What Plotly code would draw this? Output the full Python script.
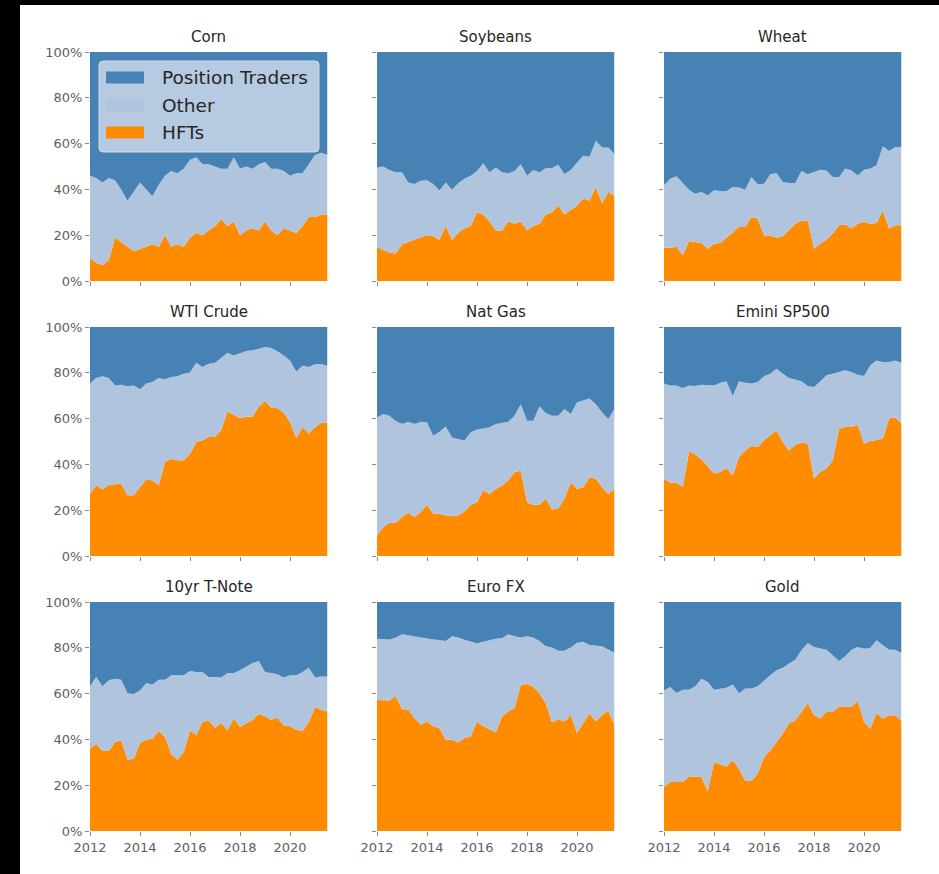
import plotly.graph_objects as go
import pandas as pd

W, H = 939, 874

# ---------------- data (percent of volume, quarterly from 2012Q1) ----------------
quarters = pd.date_range("2012-01-01", periods=39, freq="QS")

series_names = ["Position Traders", "Other", "HFTs"]
series_colors = {"Position Traders": "#4682B4", "Other": "#B0C4DE", "HFTs": "#FF8C00"}

panel_titles = ["Corn", "Soybeans", "Wheat", "WTI Crude", "Nat Gas", "Emini SP500",
                "10yr T-Note", "Euro FX", "Gold"]

# HFT share
corn_hft = [10, 8, 7, 9, 19, 17, 15, 13, 14, 15, 16, 15, 20, 15, 16, 15, 19, 21, 20, 22,
            24, 27, 24, 26, 20, 22, 23, 22, 26, 22, 20, 23, 22, 21, 24, 28, 28, 29, 29]
# HFT + Other (top of the "Other" band); Position Traders fill the rest to 100%
corn_hft_other = [46, 45, 43, 45, 44, 40, 35, 39, 43, 40, 37, 42, 46, 48, 47, 49, 53, 54, 51, 51,
                  50, 49, 49, 54, 49, 50, 49, 51, 52, 49, 49, 48, 46, 47, 47, 51, 55, 56, 55]

soy_hft = [15, 13.5, 12.5, 12, 16, 17, 18, 19, 20, 19.5, 18, 24, 18, 21, 23, 24, 30, 29, 26, 22,
           22, 26, 25, 26, 22, 24, 25, 29, 30, 33, 29, 31, 33, 36, 35, 41, 34, 39, 37]
soy_hft_other = [49.6, 50, 48.5, 47.5, 47.5, 43, 42.4, 43.8, 44, 42.4, 39.5, 43, 39.8, 42.7, 44.6,
                 46, 48, 51.4, 47.5, 49.6, 47.5, 47, 48, 51, 46, 48.5, 47.5, 49.2, 49.3, 50.8,
                 46.7, 48.5, 51.8, 54.7, 54.3, 61.2, 58.3, 58.3, 55.4]

wheat_hft = [14.5, 14.5, 15, 11.2, 17.5, 17, 16.6, 14.1, 16.3, 16.6, 18.9, 21.4, 23.6, 23.6, 27.9,
             27.2, 19.9, 19.9, 18.9, 19.5, 22.1, 25, 26.2, 26.5, 14.1, 16.3, 18, 20.7, 24.3, 24.7,
             22.9, 25, 25.8, 25, 25.3, 30.6, 22.9, 24.3, 24.3]
wheat_hft_other = [41.8, 44.7, 45.7, 42.8, 39.9, 38.1, 38.9, 37.4, 39.6, 39.3, 39.2, 41, 40.8, 39.9,
                   45.4, 42.2, 42.5, 46.6, 47.2, 43.2, 42.8, 42.8, 48, 46.6, 47.6, 48.6, 48.3,
                   45.4, 45.4, 49.1, 48.3, 46.1, 48.6, 49.1, 50.5, 58.8, 56.8, 58.5, 58.5]

wti_hft = [27, 31, 29, 31, 31.3, 31.6, 26.5, 26.5, 30, 33.5, 33, 31, 41, 42.5, 41.8, 41.8, 44.7,
           49.8, 50.5, 52, 52, 55, 63, 61.7, 60.3, 60.8, 60.8, 65.2, 67.8, 64.8, 64.5, 62.6, 58.5,
           51.5, 56.3, 53.4, 56.3, 58.2, 58.2]
wti_hft_other = [75.3, 77.7, 78.5, 77.7, 74.5, 74.8, 74.1, 74.5, 72.8, 75.3, 76, 77.7, 77.1, 78.2,
                 78.5, 79.6, 80.1, 84.4, 82.5, 84, 84.4, 86.5, 88.8, 87.6, 88.4, 89.5, 89.8, 90.5,
                 91.3, 90.8, 89.4, 87.6, 85.4, 80.6, 83.1, 82.5, 83.8, 83.8, 83]

natgas_hft = [9, 12.6, 14.5, 14.5, 17, 18.9, 17, 19.2, 22.4, 18.4, 18.4, 17.7, 17.4, 17.7, 19.4,
              22.4, 23.5, 28.6, 27.1, 29.3, 30.8, 33, 36.6, 37.3, 23.5, 22.4, 22.4, 25, 20.3, 20.9,
              25, 32.2, 29.3, 30, 34.4, 33.7, 30, 27.1, 29.3]
natgas_hft_other = [60.5, 62, 61.2, 59, 57.6, 58.6, 57.6, 58.6, 58.3, 52.5, 54.3, 56.6, 51.8, 51.1,
                    50.4, 54, 55.2, 55.7, 56.2, 57.6, 58.1, 58.6, 61.2, 66.3, 59.1, 59.1, 65.3,
                    62.4, 61.2, 61.2, 64.2, 62, 67.1, 67.8, 68.8, 66.3, 62.7, 59.8, 64.2]

emini_hft = [33.8, 32, 32, 30.1, 45.7, 44.2, 42.2, 38.9, 36, 36.7, 38.4, 35.2, 43.2, 46.1, 48, 47.6,
             50.5, 52.7, 54.9, 49.8, 46.1, 48.6, 49.5, 49.1, 33.8, 36.7, 38.1, 41.8, 55.6, 56.3,
             56.3, 57.3, 49.1, 50.1, 50.5, 51.2, 60, 60.6, 57.8]
emini_hft_other = [75.3, 74.5, 74.5, 73.4, 74.5, 74.2, 74.8, 74.5, 74.5, 75.7, 76.3, 69.9, 76.3,
                   75.7, 75.3, 76, 78.5, 79.6, 81.8, 79.6, 77.7, 77.1, 76.3, 74.2, 73.8, 76.3,
                   78.9, 79.6, 80.3, 81.1, 80.3, 79.2, 78.6, 83.3, 85.4, 84.7, 84.7, 85.4, 84.3]

tnote_hft = [36, 38.1, 34.9, 34.9, 38.9, 39.6, 31.1, 31.6, 38.4, 39.9, 40.3, 43.7, 41, 33.5, 31.1,
             34.5, 44, 41.8, 47.6, 48.3, 45.1, 47.2, 44, 49.1, 45.4, 47.2, 48.3, 51.2, 50.1, 48.6,
             49.5, 46.1, 45.7, 44.2, 43.7, 47.6, 54.1, 52.8, 52.4]
tnote_hft_other = [63.2, 67.2, 63.2, 65.8, 66.5, 66.1, 60.1, 59.8, 61.4, 64.6, 64, 66.1, 66.1, 68,
                   68, 68, 69.9, 69.4, 69.4, 67.2, 67.2, 67, 69, 69, 70.2, 71.9, 73.4, 74.2, 69.4,
                   69, 68.4, 67, 68, 68, 69.4, 71.3, 67, 67.5, 67.5]

eurofx_hft = [57.2, 57.2, 57, 59, 53.2, 53.2, 49.3, 46.4, 47.8, 45.7, 44.9, 39.9, 39.9, 38.7, 40.6,
              41.3, 47.8, 45.7, 44.2, 43, 50, 52.2, 53.6, 63.8, 64.2, 63, 60.1, 55.8, 47.4, 48.8,
              47.8, 50.7, 42.8, 47.1, 51.4, 47.8, 50.7, 52.5, 46.4]
eurofx_hft_other = [84, 83.8, 83.6, 84.5, 85.9, 85.5, 85, 84.5, 84, 83.6, 83.4, 83, 85, 84.5, 83.5,
                    82.6, 81.9, 82.6, 83.3, 84, 84.2, 85.9, 85, 84.5, 85, 84.5, 83, 80.7, 80.1,
                    78.7, 78.7, 80.1, 82.2, 82.6, 81.2, 81, 80.7, 79.3, 77.8]

gold_hft = [19.2, 21.4, 21.4, 21.4, 23.9, 23.6, 23.6, 17.5, 30.1, 29.1, 28.2, 30.9, 27.2, 22.1,
            21.8, 25, 32.3, 35.2, 38.9, 42.5, 47.2, 48.3, 52, 55.9, 50.5, 49.1, 52, 52, 54.4, 54.4,
            54.1, 56.8, 47.6, 44.7, 51.5, 49.1, 50.5, 50.5, 48]
gold_hft_other = [61.4, 62.9, 60.3, 61.7, 61.7, 63.2, 66.5, 65.1, 61.7, 62.2, 62.6, 64, 60.1, 62.2,
                  62.2, 63.2, 65.8, 68, 70.2, 71.3, 73.1, 74.8, 78.9, 82.1, 80.3, 79.6, 79.2, 76.7,
                  74.2, 76.3, 79.2, 80.3, 79.6, 79.9, 83.3, 81.1, 79.2, 79.2, 77.7]

total_share = [100] * len(quarters)

y_tick_vals = [0, 20, 40, 60, 80, 100]
y_tick_text = ["0%", "20%", "40%", "60%", "80%", "100%"]

panels = [
    (corn_hft, corn_hft_other), (soy_hft, soy_hft_other), (wheat_hft, wheat_hft_other),
    (wti_hft, wti_hft_other), (natgas_hft, natgas_hft_other), (emini_hft, emini_hft_other),
    (tnote_hft, tnote_hft_other), (eurofx_hft, eurofx_hft_other), (gold_hft, gold_hft_other),
]

# ---------------- layout geometry (pixels) ----------------
col_px = [(90, 327.5), (377, 614.5), (664, 901.5)]
row_px = [(52, 281), (327, 556), (602, 831)]

FONT = "DejaVu Sans"
TICK_FONT = dict(family=FONT, size=13, color="#606060")
TICK_COLOR = "#8a8a8a"

fig = go.Figure()
layout = dict(
    width=W, height=H, autosize=False,
    margin=dict(l=0, r=0, t=0, b=0, pad=0, autoexpand=False),
    paper_bgcolor="white", plot_bgcolor="white",
    showlegend=False,
    font=dict(family=FONT),
)
annotations = []
shapes = []

for k, (title, (hft, hft_other)) in enumerate(zip(panel_titles, panels)):
    r, c = divmod(k, 3)
    sfx = "" if k == 0 else str(k + 1)
    xa, ya = "x" + sfx, "y" + sfx
    common = dict(x=quarters, mode="lines", line=dict(width=0), xaxis=xa, yaxis=ya,
                  hoverinfo="x+y+name")
    fig.add_trace(go.Scatter(y=hft, fill="tozeroy", fillcolor=series_colors["HFTs"],
                             name="HFTs", **common))
    fig.add_trace(go.Scatter(y=hft_other, fill="tonexty", fillcolor=series_colors["Other"],
                             name="Other", **common))
    fig.add_trace(go.Scatter(y=total_share, fill="tonexty",
                             fillcolor=series_colors["Position Traders"],
                             name="Position Traders", **common))

    x0, x1 = col_px[c]
    y0, y1 = row_px[r]
    layout["xaxis" + sfx] = dict(
        domain=[x0 / W, x1 / W], anchor=ya, type="date", automargin=False,
        range=["2012-01-01", "2021-07-01"],
        tick0="2012-01-01", dtick="M24", tickformat="%Y",
        ticks="outside", ticklen=4, tickwidth=1, tickcolor=TICK_COLOR,
        showticklabels=(r == 2), tickfont=TICK_FONT,
        showgrid=False, zeroline=False, showline=False,
    )
    layout["yaxis" + sfx] = dict(
        domain=[1 - y1 / H, 1 - y0 / H], anchor=xa, automargin=False,
        range=[0, 100], tickvals=y_tick_vals, ticktext=y_tick_text,
        ticks="outside", ticklen=4, tickwidth=1, tickcolor=TICK_COLOR,
        showticklabels=(c == 0), tickfont=TICK_FONT,
        showgrid=False, zeroline=False, showline=False,
    )
    annotations.append(dict(
        text=title, xref="paper", yref="paper",
        x=(x0 + x1) / 2 / W, y=1 - (y0 - 15) / H,
        xanchor="center", yanchor="middle", showarrow=False,
        font=dict(family=FONT, size=15, color="#262626"),
    ))

# ---------------- legend (drawn inside the Corn panel) ----------------
def px(xp):
    return xp / W

def py(yp):
    return 1 - yp / H

lx0, lx1, ly0, ly1, rad = 99, 319, 61, 152, 4
legend_path = (
    f"M{px(lx0 + rad)},{py(ly0)} L{px(lx1 - rad)},{py(ly0)} "
    f"Q{px(lx1)},{py(ly0)} {px(lx1)},{py(ly0 + rad)} "
    f"L{px(lx1)},{py(ly1 - rad)} Q{px(lx1)},{py(ly1)} {px(lx1 - rad)},{py(ly1)} "
    f"L{px(lx0 + rad)},{py(ly1)} Q{px(lx0)},{py(ly1)} {px(lx0)},{py(ly1 - rad)} "
    f"L{px(lx0)},{py(ly0 + rad)} Q{px(lx0)},{py(ly0)} {px(lx0 + rad)},{py(ly0)} Z"
)
shapes.append(dict(type="path", xref="paper", yref="paper", path=legend_path,
                   fillcolor="rgb(182,202,226)", line=dict(color="rgb(205,218,234)", width=1),
                   layer="above"))
row_centers = [77.5, 105, 132.5]
for name, yc in zip(series_names, row_centers):
    shapes.append(dict(type="rect", xref="paper", yref="paper",
                       x0=px(106), x1=px(144), y0=py(yc + 6), y1=py(yc - 6),
                       fillcolor=series_colors[name], line=dict(width=0), layer="above"))
    annotations.append(dict(text=name, xref="paper", yref="paper", x=px(160), y=py(yc),
                            xanchor="left", yanchor="middle", showarrow=False,
                            font=dict(family=FONT, size=18.5, color="#262626")))

# black frame strips seen at the left and top edge of the reference
shapes.append(dict(type="rect", xref="paper", yref="paper", x0=0, x1=20 / W, y0=0, y1=1,
                   fillcolor="black", line=dict(width=0), layer="above"))
shapes.append(dict(type="rect", xref="paper", yref="paper", x0=0, x1=1, y0=1 - 5 / H, y1=1,
                   fillcolor="black", line=dict(width=0), layer="above"))

layout["annotations"] = annotations
layout["shapes"] = shapes
fig.update_layout(**layout)

fig.write_html("out.html", config={"displayModeBar": False},
               post_script="document.body.style.margin='0';")
